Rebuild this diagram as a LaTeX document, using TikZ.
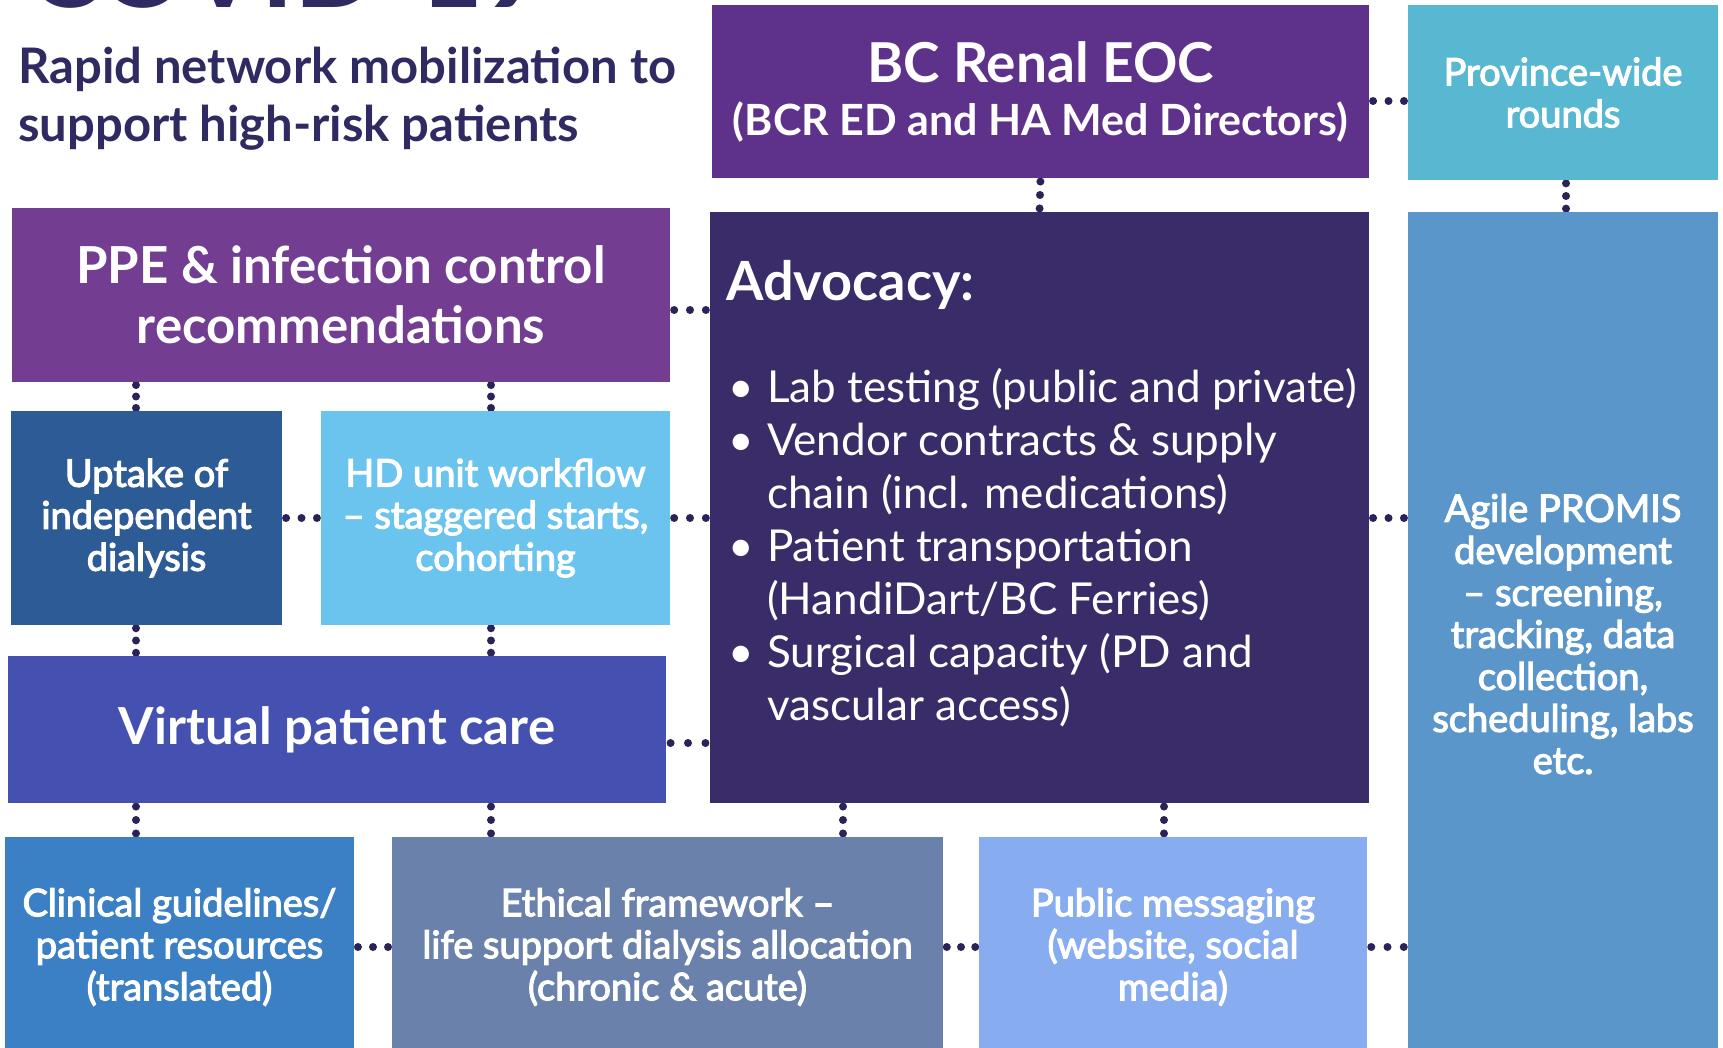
\documentclass[tikz,border=0pt]{standalone}
\usepackage{fontspec}
\usepackage{graphicx}
\setmainfont{Lato}
\newfontfamily\medfont[FakeBold=3]{Lato}
\usetikzlibrary{backgrounds}
\definecolor{cNavy}{HTML}{302A62}
\definecolor{cDot}{HTML}{2A2358}
\definecolor{cEOC}{HTML}{5E328A}
\definecolor{cProv}{HTML}{58B7D1}
\definecolor{cPPE}{HTML}{733D91}
\definecolor{cAdv}{HTML}{3A2C68}
\definecolor{cAgile}{HTML}{5A96CA}
\definecolor{cUptake}{HTML}{2D5B95}
\definecolor{cHD}{HTML}{6AC4EE}
\definecolor{cVirt}{HTML}{4551B0}
\definecolor{cClin}{HTML}{3B7FC4}
\definecolor{cEth}{HTML}{6981AB}
\definecolor{cPub}{HTML}{87ADF0}
\newcommand\fsz[2]{\fontsize{#1}{#2}\selectfont}
\newcommand\dotlink[2]{\path (#1) -- (#2) node[dotc,pos=0.1]{} node[dotc,pos=.5]{} node[dotc,pos=0.9]{};}
\tikzset{
  box/.style={rectangle, inner sep=0pt, draw=none, text=white, align=center},
  bodytxt/.style={font=\medfont\fsz{38}{42}},
  headtxt/.style={font=\bfseries\fsz{51}{60}},
  dotc/.style={circle, fill=cDot, inner sep=0pt, minimum size=8pt}
}
\begin{document}
\begin{tikzpicture}[x=1pt,y=-1pt]
\useasboundingbox (0,0) rectangle (1723,1048);

% title
\node[anchor=base west, inner sep=0pt, text=cNavy] (covid) at (27,8)
  {\resizebox{520pt}{!}{\bfseries COVID-19}};
\node[anchor=north west, inner sep=0pt, text=cNavy, align=left,
  font=\bfseries\fsz{49}{58}] (sub) at (18,47)
  {Rapid network mobilization to\\support high-risk patients};

% boxes
\node[box, fill=cEOC, minimum width=657pt, minimum height=173pt, font=\bfseries\fsz{43}{53}] (eoc) at (1040.5,91.5)
  {{\fsz{55}{53}BC Renal EOC}\\(BCR ED and HA Med Directors)};
\node[box, fill=cProv, minimum width=310pt, minimum height=175pt, bodytxt] (prov) at (1563,92.5)
  {Province-wide\\rounds};
\node[box, fill=cPPE, minimum width=658pt, minimum height=174pt, headtxt] (ppe) at (341,295)
  {PPE \& infection control\\recommendations};
\node[box, fill=cAdv, minimum width=659pt, minimum height=591pt] (adv) at (1039.5,507.5) {};
\node[box, fill=cAgile, minimum width=310pt, minimum height=850pt] (agile) at (1563,637) {};
\node[box, fill=cUptake, minimum width=271pt, minimum height=214pt, bodytxt] (upt) at (146.5,518)
  {Uptake of\\independent\\dialysis};
\node[box, fill=cHD, minimum width=349pt, minimum height=214pt, bodytxt] (hd) at (495.5,518)
  {HD unit workflow\\– staggered starts,\\cohorting};
\node[box, fill=cVirt, minimum width=658pt, minimum height=147pt, headtxt] (virt) at (337,729.5)
  {Virtual patient care};
\node[box, fill=cClin, minimum width=349pt, minimum height=220pt, bodytxt] (clin) at (179.5,947)
  {Clinical guidelines/\\patient resources\\(translated)};
\node[box, fill=cEth, minimum width=551pt, minimum height=220pt, bodytxt] (eth) at (667.5,947)
  {Ethical framework –\\life support dialysis allocation\\(chronic \& acute)};
\node[box, fill=cPub, minimum width=388pt, minimum height=220pt, bodytxt] (pub) at (1173,947)
  {Public messaging\\(website, social\\media)};

% texts inside large boxes
\node[anchor=west, inner sep=0pt, text=white, font=\bfseries\fsz{54}{60}] (advhead) at (726,285) {Advocacy:};
\node[anchor=north west, inner sep=0pt, text=white, align=left, font=\fsz{44}{53}] (advlist) at (728,368)
  {\makebox[39pt][l]{•}Lab testing (public and private)\\
   \makebox[39pt][l]{•}Vendor contracts \& supply\\
   \hspace*{39pt}chain (incl. medications)\\
   \makebox[39pt][l]{•}Patient transportation\\
   \hspace*{39pt}(HandiDart/BC Ferries)\\
   \makebox[39pt][l]{•}Surgical capacity (PD and\\
   \hspace*{39pt}vascular access)};
\node[box, bodytxt] (agiletxt) at (1563,634)
  {Agile PROMIS\\development\\– screening,\\tracking, data\\collection,\\scheduling, labs\\etc.};

% dotted connectors
\begin{pgfonlayer}{background}
\fill[white] (0,0) rectangle (1723,1048);
\dotlink{eoc.east |- 0,101}{prov.west |- 0,101}
\dotlink{eoc.south}{adv.north}
\dotlink{prov.south -| 1566,0}{agile.north -| 1566,0}
\dotlink{ppe.east |- 0,310}{adv.west |- 0,310}
\dotlink{ppe.south -| 136,0}{upt.north -| 136,0}
\dotlink{ppe.south -| 491,0}{hd.north -| 491,0}
\dotlink{upt.east}{hd.west}
\dotlink{hd.east}{adv.west |- hd.east}
\dotlink{adv.east |- 0,518}{agile.west |- 0,518}
\dotlink{upt.south -| 136,0}{virt.north -| 136,0}
\dotlink{hd.south -| 491,0}{virt.north -| 491,0}
\dotlink{virt.east |- 0,743}{adv.west |- 0,743}
\dotlink{virt.south -| 136,0}{clin.north -| 136,0}
\dotlink{virt.south -| 491,0}{eth.north -| 491,0}
\dotlink{adv.south -| 843,0}{eth.north -| 843,0}
\dotlink{adv.south -| 1164,0}{pub.north -| 1164,0}
\dotlink{clin.east}{eth.west}
\dotlink{eth.east}{pub.west}
\dotlink{pub.east}{agile.west |- pub.east}
\end{pgfonlayer}
\end{tikzpicture}
\end{document}
